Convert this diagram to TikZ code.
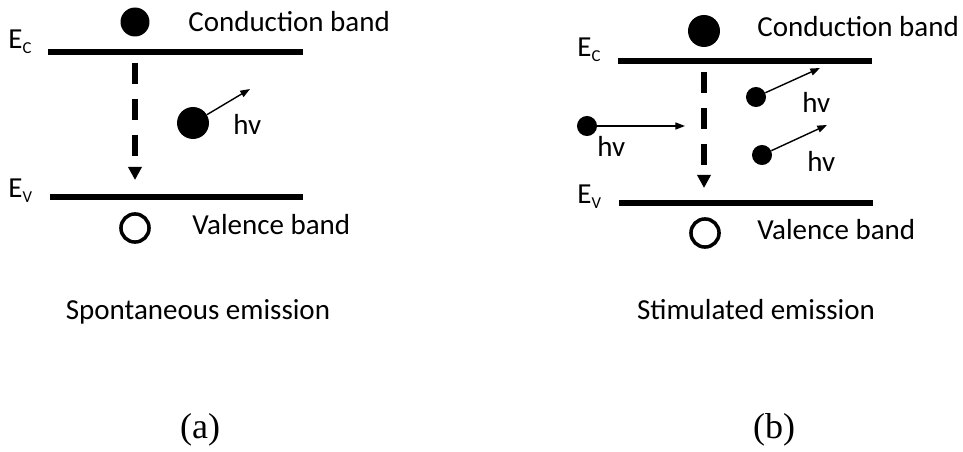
\documentclass[tikz,border=0pt]{standalone}
\usepackage{fontspec}
\setmainfont{Carlito}
\newfontfamily\capfont{Liberation Serif}
\usetikzlibrary{arrows.meta}
% energy level label with a lowered index
\newcommand\elev[1]{E\raisebox{-2.5pt}{\fontsize{9.5}{10}\selectfont #1}}

\begin{document}
\begin{tikzpicture}[x=0.02cm, y=-0.02cm, font=\fontsize{16.5}{20}\selectfont,
  band/.style={line width=3.2pt},
  drop/.style={line width=2.9pt, dash pattern=on 11.9pt off 8.5pt,
    -{Triangle[length=7.4pt, width=7.4pt]}},
  photon/.style={line width=0.8pt, -{Triangle[length=5.5pt, width=4pt]}},
  electron/.style={circle, fill, inner sep=0pt, minimum size=#1},
  hole/.style={circle, draw, line width=2pt, inner sep=0pt, minimum size=16pt},
  lbl/.style={anchor=base west, inner sep=0pt}]
  \useasboundingbox (0,0) rectangle (963,452);

  % (a) spontaneous emission
  \draw[band] (48,52) -- (303,52);
  \draw[band] (50,197) -- (303,197);
  \node[lbl] (a-ec) at (8,49) {\elev{C}};
  \node[lbl] (a-ev) at (8,198) {\elev{V}};
  \node[electron=16.5pt] (a-top) at (135,22) {};
  \node[lbl] (a-cb) at (188,32) {Conduction band};
  \node[hole] (a-hole) at (135,228) {};
  \node[lbl] (a-vb) at (192,235) {Valence band};
  \coordinate (a-from) at (135,63);
  \coordinate (a-to) at (135,180);
  \draw[drop] (a-from) -- (a-to);
  \node[electron=18.2pt] (a-e) at (193,123) {};
  \coordinate (a-out) at (250,89);
  \draw[photon] (a-e) -- (a-out);
  \node[lbl] (a-hv) at (233,135) {hv};
  \node[anchor=base] (a-title) at (198,319) {Spontaneous emission};
  \node[anchor=base, font=\capfont\fontsize{20.5}{24}\selectfont] (a-tag) at (200,438) {(a)};

  % (b) stimulated emission
  \draw[band] (618,61) -- (872,61);
  \draw[band] (619,203) -- (873,203);
  \node[lbl] (b-ec) at (577,57) {\elev{C}};
  \node[lbl] (b-ev) at (577,204) {\elev{V}};
  \node[electron=18.2pt] (b-top) at (704,31) {};
  \node[lbl] (b-cb) at (757,37) {Conduction band};
  \node[hole] (b-hole) at (705,233) {};
  \node[lbl] (b-vb) at (757,240) {Valence band};
  \coordinate (b-from) at (704,72);
  \coordinate (b-to) at (704,188);
  \draw[drop] (b-from) -- (b-to);
  % incoming photon
  \node[electron=11.4pt] (b-in) at (587,126) {};
  \coordinate (b-hit) at (685,126);
  \draw[photon] (b-in) -- (b-hit);
  \node[lbl] (b-hv) at (597,157) {hv};
  % two photons leaving
  \foreach \n/\x/\y/\ex/\ey/\tx/\ty in {1/756/97/820/68/802/113, 2/762/155/827/125/807/172} {
    \node[electron=11.4pt] (b-e\n) at (\x,\y) {};
    \coordinate (b-out\n) at (\ex,\ey);
    \draw[photon] (b-e\n) -- (b-out\n);
    \node[lbl] (b-hv\n) at (\tx,\ty) {hv};
  }
  \node[anchor=base] (b-title) at (756,319) {Stimulated emission};
  \node[anchor=base, font=\capfont\fontsize{20.5}{24}\selectfont] (b-tag) at (774,438) {(b)};
\end{tikzpicture}
\end{document}
